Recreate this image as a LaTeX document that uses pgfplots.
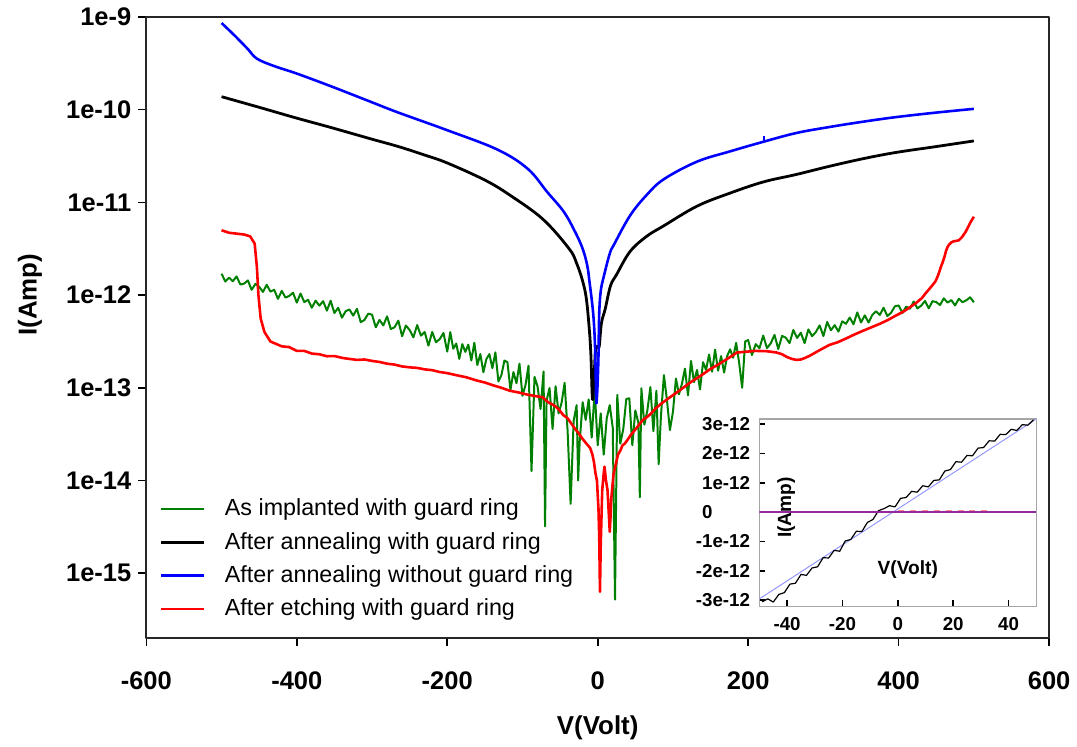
\documentclass[border=0pt]{standalone}
\usepackage{fontspec}
\setmainfont{Liberation Sans}
\usepackage{pgfplots}
\pgfplotsset{compat=1.18}
\definecolor{cgreen}{RGB}{0,128,0}
\definecolor{cblue}{RGB}{0,0,255}
\definecolor{cred}{RGB}{255,0,0}
\definecolor{cpurple}{RGB}{150,40,160}
\definecolor{clblue}{RGB}{150,150,255}
\begin{document}
\begin{tikzpicture}
\path (-73.5pt,-50.5pt) rectangle (465pt,320.5pt);
\begin{axis}[
  name=main, at={(0pt,0pt)}, anchor=south west,
  scale only axis, width=453.5pt, height=312pt,
  xmin=-600, xmax=600, ymode=log, ymin=2.0e-16, ymax=1e-9,
  xtick={-600,-400,-200,0,200,400,600},
  xticklabels={-600,-400,-200,0,200,400,600},
  ytick={1e-15,1e-14,1e-13,1e-12,1e-11,1e-10,1e-9},
  yticklabels={1e-15,1e-14,1e-13,1e-12,1e-11,1e-10,1e-9},
  yminorticks=false,
  tick align=outside, xtick pos=left, ytick pos=left,
  major tick length=4pt,
  tick style={black, line width=0.8pt},
  axis line style={black!85, line width=0.9pt},
  ticklabel style={font=\fontsize{12.8}{14}\selectfont\bfseries},
  xticklabel style={yshift=-9.5pt},
  xlabel={V(Volt)}, ylabel={I(Amp)},
  label style={font=\fontsize{13}{15}\selectfont\bfseries},
  xlabel style={at={(axis description cs:0.5,-0.145)}, anchor=center},
  ylabel style={at={(axis description cs:-0.129,0.553)}, anchor=center},
  legend style={draw=none, fill=none, at={(axis description cs:0.0075,0.236)}, anchor=north west,
    font=\fontsize{11.7}{13}\selectfont, row sep=3.2pt, column sep=9pt,
    nodes={text height=9pt, text depth=2.5pt, inner sep=1pt}},
  legend cell align=left,
  legend image code/.code={\draw[#1] (0pt,0pt) -- (21.5pt,0pt);},
  line join=round,
]
\addplot[cgreen, line width=1.0pt] coordinates {
(-500,1.70e-12) (-495,1.40e-12) (-490,1.54e-12) (-485,1.41e-12) (-480,1.59e-12) (-475,1.30e-12)
(-470,1.33e-12) (-465,1.44e-12) (-460,1.14e-12) (-455,1.32e-12) (-450,1.23e-12) (-445,1.08e-12)
(-440,1.29e-12) (-435,1.09e-12) (-430,1.14e-12) (-425,9.1e-13) (-420,1.11e-12) (-415,9.4e-13)
(-410,9.8e-13) (-405,1.06e-12) (-400,8.3e-13) (-395,1.04e-12) (-390,8.4e-13) (-385,8.9e-13)
(-380,7.3e-13) (-375,8.7e-13) (-370,7.7e-13) (-365,8.6e-13) (-360,6.8e-13) (-355,8.7e-13)
(-350,6.4e-13) (-345,7.3e-13) (-340,5.7e-13) (-335,6.7e-13) (-330,7.0e-13) (-325,6.0e-13)
(-320,7.1e-13) (-315,5.1e-13) (-310,5.4e-13) (-305,6.3e-13) (-300,6.15e-13) (-295,4.5e-13)
(-290,5.4e-13) (-285,4.7e-13) (-280,5.9e-13) (-275,4.3e-13) (-270,4.5e-13) (-265,5.3e-13)
(-260,3.6e-13) (-255,4.7e-13) (-250,4.2e-13) (-245,3.5e-13) (-240,4.75e-13) (-235,3.65e-13)
(-230,4.0e-13) (-225,2.85e-13) (-220,4.0e-13) (-215,3.1e-13) (-210,3.35e-13) (-205,3.9e-13)
(-200,2.46e-13) (-196,3.99e-13) (-192,2.64e-13) (-188,3.0e-13) (-184,2.05e-13) (-180,2.96e-13)
(-176,2.44e-13) (-172,2.92e-13) (-168,1.97e-13) (-164,3.06e-13) (-160,1.76e-13) (-156,2.31e-13)
(-152,1.47e-13) (-148,2.04e-13) (-144,2.31e-13) (-140,1.63e-13) (-136,2.41e-13) (-132,1.17e-13)
(-128,1.37e-13) (-124,1.97e-13) (-120,1.89e-13) (-116,9.5e-14) (-112,1.48e-13) (-108,1.12e-13)
(-104,1.82e-13) (-100,8.2e-14) (-96,1.07e-13) (-92,1.73e-13) (-88,1.26e-14) (-84,1.31e-13)
(-80,1.04e-13) (-76,5.9e-14) (-72,1.5e-13) (-70,3.2e-15) (-68,7.3e-14) (-64,9.95e-14)
(-60,3.6e-14) (-56,1.04e-13) (-52,5.3e-14) (-48,6.9e-14) (-44,1.13e-13) (-40,3.4e-14)
(-36,5.6e-15) (-32,4.4e-14) (-28,6.5e-14) (-26,1.0e-14) (-24,2.6e-14) (-20,7.0e-14)
(-16,4.5e-14) (-12,7.5e-14) (-8,2.9e-14) (-4,9.3e-14) (0,2.4e-14) (4,5.3e-14)
(8,1.9e-14) (12,4.7e-14) (16,6.5e-14) (20,3.7e-14) (23,5.2e-16) (26,8.4e-14)
(30,2.5e-14) (34,3.6e-14) (38,7.6e-14) (42,7.7e-14) (46,2.4e-14) (50,5.7e-14)
(54,4.2e-14) (56,6.6e-15) (58,9.9e-14) (62,4.0e-14) (66,5.7e-14) (70,1.02e-13)
(74,3.4e-14) (78,9.3e-14) (81,1.5e-14) (84,4.9e-14) (88,1.37e-13) (92,7.4e-14)
(96,3.5e-14) (100,5.5e-14) (104,1.26e-13) (108,8.5e-14) (112,1.11e-13) (116,1.61e-13)
(120,8.3e-14) (124,1.95e-13) (128,1.15e-13) (132,1.56e-13) (136,9.6e-14) (140,1.89e-13)
(144,1.56e-13) (148,2.29e-13) (152,1.49e-13) (156,2.58e-13) (160,1.53e-13) (164,2.2e-13)
(168,1.46e-13) (172,2.2e-13) (176,2.6e-13) (180,2.11e-13) (184,3.05e-13) (188,1.86e-13)
(192,1.0e-13) (196,3.16e-13) (200,3.27e-13) (205,2.25e-13) (210,2.96e-13) (215,2.68e-13)
(220,3.66e-13) (225,2.68e-13) (230,3.02e-13) (235,3.72e-13) (240,2.62e-13) (245,3.63e-13)
(250,3.47e-13) (255,3.03e-13) (260,4.2e-13) (265,3.45e-13) (270,3.93e-13) (275,3.03e-13)
(280,4.26e-13) (285,3.6e-13) (290,4.0e-13) (295,4.71e-13) (300,3.62e-13) (305,5.13e-13)
(310,4.18e-13) (315,4.74e-13) (320,4.04e-13) (325,5.21e-13) (330,4.9e-13) (335,5.73e-13)
(340,4.84e-13) (345,6.5e-13) (350,5.07e-13) (355,6.05e-13) (360,5.06e-13) (365,6.12e-13)
(370,6.68e-13) (375,6.11e-13) (380,7.31e-13) (385,5.93e-13) (390,6.46e-13) (395,7.57e-13)
(400,7.73e-13) (405,6.41e-13) (410,7.52e-13) (415,7.13e-13) (420,8.53e-13) (425,7.18e-13)
(430,7.69e-13) (435,8.65e-13) (440,7.19e-13) (445,8.59e-13) (450,8.41e-13) (455,7.8e-13)
(460,9.23e-13) (465,8.3e-13) (470,8.83e-13) (475,7.74e-13) (480,9.12e-13) (485,8.38e-13)
(490,8.79e-13) (495,9.46e-13) (500,8.36e-13)
};
\addlegendentry{As implanted with guard ring}
\addplot[black, line width=1.4pt, smooth, tension=0.6] coordinates {
(-500,1.38e-10) (-450,1.06e-10) (-400,8.1e-11) (-354,6.4e-11) (-300,4.8e-11) (-265,4.0e-11)
(-230,3.24e-11) (-200,2.66e-11) (-150,1.74e-11) (-117,1.2e-11) (-73,6.6e-12) (-38,3.16e-12) (-28,2.2e-12)
(-20,1.41e-12) (-15,9.0e-13) (-11,4.1e-13) (-9,2.2e-13) (-7,7.6e-14) (-5,1.2e-13)
(-3,2.5e-13) (0,2.8e-13) (2,2.8e-13) (5,5.0e-13) (10,7.1e-13) (17,1.26e-12) (25,1.66e-12)
(43,2.95e-12) (65,4.3e-12) (88,5.6e-12) (132,9.1e-12) (176,1.26e-11) (220,1.66e-11)
(264,2.0e-11) (308,2.45e-11) (352,2.95e-11) (396,3.45e-11) (450,4.0e-11) (500,4.6e-11)
};
\addlegendentry{After annealing with guard ring}
\addplot[cblue, line width=1.3pt, smooth, tension=0.6] coordinates {
(-500,8.6e-10) (-490,7.2e-10) (-480,6.0e-10) (-465,4.5e-10) (-453,3.55e-10) (-430,2.95e-10)
(-400,2.45e-10) (-354,1.78e-10) (-300,1.2e-10) (-265,9.3e-11) (-200,6.0e-11) (-133,3.7e-11)
(-93,2.3e-11) (-67,1.29e-11) (-45,7.9e-12) (-30,4.8e-12) (-20,3.16e-12) (-14,2.1e-12)
(-11,1.41e-12) (-6,6.3e-13) (-3.5,2.7e-13) (-2,7.4e-14) (-1,8e-14) (0,1.2e-13) (1,2.2e-13)
(2,6.3e-13) (4,1.1e-12) (8,1.58e-12) (16,2.8e-12) (22,3.55e-12) (43,7.2e-12) (65,1.2e-11)
(88,1.78e-11) (132,2.75e-11) (176,3.55e-11) (220,4.5e-11)
(264,5.6e-11) (308,6.5e-11) (352,7.4e-11) (396,8.3e-11) (450,9.3e-11) (500,1.02e-10)
};
\addlegendentry{After annealing without guard ring}
\addplot[cred, line width=1.3pt] coordinates {
(-500,5.0e-12) (-490,4.7e-12) (-480,4.6e-12) (-470,4.5e-12) (-462,4.3e-12) (-456,3.6e-12)
(-453,2.0e-12) (-451,1.0e-12) (-448,5.6e-13) (-443,4.0e-13) (-435,3.16e-13) (-420,2.8e-13)
(-410,2.75e-13) (-400,2.5e-13) (-390,2.5e-13) (-380,2.34e-13) (-370,2.3e-13) (-360,2.19e-13)
(-350,2.2e-13) (-338,2.09e-13) (-320,2.0e-13) (-310,2.02e-13) (-300,1.95e-13) (-290,1.9e-13)
(-280,1.82e-13) (-270,1.78e-13) (-260,1.70e-13) (-249,1.66e-13) (-240,1.64e-13) (-230,1.58e-13)
(-220,1.55e-13) (-210,1.48e-13) (-200,1.44e-13) (-190,1.38e-13) (-175,1.3e-13) (-161,1.2e-13)
(-150,1.14e-13) (-140,1.07e-13) (-128,1.0e-13) (-117,9.3e-14) (-105,8.9e-14) (-95,8.5e-14)
(-85,8.2e-14) (-73,7.9e-14) (-66,7.0e-14) (-60,6.6e-14) (-55,6.2e-14) (-51,5.75e-14)
(-46,5.1e-14) (-40,4.7e-14) (-35,4.1e-14) (-30,3.6e-14) (-25,3.2e-14) (-20,2.8e-14)
(-15,2.5e-14) (-10,2.24e-14) (-7,1.9e-14) (-5,1.58e-14) (-3,1.2e-14) (-1,1.0e-14)
(0,7e-15) (1,5.0e-15) (2,2.5e-15) (3,6.3e-16) (4,2.0e-15) (5,4.0e-15) (6,7.9e-15)
(8,1.2e-14) (9,1.41e-14) (11,1.0e-14) (13,7.9e-15) (15,4.0e-15) (16,2.8e-15) (17,4.0e-15)
(18,6.3e-15) (20,9.5e-15) (21,1.17e-14) (24,1.5e-14) (27,1.9e-14) (30,2.1e-14) (33,2.4e-14)
(36,2.5e-14) (39,2.7e-14) (44,3.1e-14) (50,3.55e-14) (55,4.0e-14) (60,4.5e-14) (65,4.8e-14)
(69,5.1e-14) (77,6.0e-14) (85,6.8e-14) (95,7.8e-14) (105,8.9e-14) (115,1.02e-13)
(125,1.17e-13) (137,1.35e-13) (149,1.58e-13) (160,1.78e-13) (170,2.0e-13) (178,2.2e-13)
(185,2.4e-13) (197,2.45e-13) (210,2.5e-13) (225,2.48e-13) (238,2.4e-13) (245,2.3e-13)
(252,2.14e-13) (258,2.05e-13) (264,2.0e-13) (270,2.02e-13) (275,2.09e-13) (281,2.2e-13)
(287,2.34e-13) (297,2.6e-13) (308,2.9e-13) (319,3.1e-13) (330,3.4e-13) (341,3.75e-13)
(352,4.1e-13) (364,4.5e-13) (375,4.9e-13) (386,5.4e-13) (396,6.0e-13) (406,6.6e-13)
(415,7.4e-13) (423,8.2e-13) (431,9.3e-13) (436,1.05e-12) (441,1.17e-12) (445,1.28e-12)
(449,1.41e-12) (452,1.6e-12) (454,1.78e-12) (456,2.0e-12) (458,2.2e-12) (461,2.6e-12)
(463,3.0e-12) (465,3.3e-12) (467,3.5e-12) (470,3.7e-12) (473,3.8e-12) (477,3.85e-12)
(480,3.9e-12) (484,4.2e-12) (489,4.8e-12) (495,6.0e-12) (500,7.0e-12)
};
\addlegendentry{After etching with guard ring}
\addplot[cblue, line width=1.0pt, forget plot] coordinates {(221,4.55e-11) (221,5.2e-11)};
\end{axis}
\begin{axis}[
  at={(308pt,16pt)}, anchor=south west,
  scale only axis, width=139pt, height=94pt,
  xmin=-50, xmax=50, ymin=-3.2e-12, ymax=3.17e-12,
  axis background/.style={fill=white},
  axis line style={black!35, line width=0.6pt},
  xtick={-40,-20,0,20,40}, xticklabels={-40,-20,0,20,40},
  ytick={-3e-12,-2e-12,-1e-12,0,1e-12,2e-12,3e-12},
  yticklabels={\llap{-}3e-12,\llap{-}2e-12,\llap{-}1e-12,0,1e-12,2e-12,3e-12},
  scaled y ticks=false,
  tick align=inside, xtick pos=left, ytick pos=left,
  major tick length=3pt,
  tick style={black, line width=0.8pt},
  ticklabel style={font=\fontsize{9.4}{11}\selectfont\bfseries},
  yticklabel style={anchor=west, inner sep=0pt, xshift=-29pt},
  xticklabel style={yshift=-2pt},
  line join=round,
]
\addplot[clblue, line width=0.5pt] coordinates {(-50,-2.95e-12) (50,3.17e-12)};
\addplot[black, line width=0.6pt] coordinates {
(-49,-3.05e-12) (-47,-2.95e-12) (-45,-3.06e-12) (-43,-2.80e-12) (-41,-2.74e-12) (-39,-2.45e-12)
(-37,-2.42e-12) (-35,-2.12e-12) (-33,-2.15e-12) (-31,-1.90e-12) (-29,-1.86e-12) (-27,-1.55e-12)
(-25,-1.56e-12) (-23,-1.30e-12) (-21,-1.33e-12) (-19,-0.98e-12) (-17,-0.93e-12) (-15,-0.65e-12)
(-13,-0.66e-12) (-11,-0.35e-12) (-9,-0.25e-12) (-7,0.05e-12) (-5,0.12e-12) (-3,0.22e-12)
(-1,0.18e-12) (1,0.47e-12) (3,0.50e-12) (5,0.71e-12) (7,0.68e-12) (9,0.90e-12) (11,0.86e-12)
(13,1.08e-12) (15,1.10e-12) (17,1.40e-12) (19,1.45e-12) (21,1.72e-12) (23,1.70e-12)
(25,1.93e-12) (27,1.92e-12) (29,2.18e-12) (31,2.20e-12) (33,2.43e-12) (35,2.42e-12)
(37,2.65e-12) (39,2.64e-12) (41,2.82e-12) (43,2.78e-12) (45,2.98e-12) (47,2.96e-12) (49,3.14e-12)
};
\addplot[cred!45, line width=0.8pt, dashed] coordinates {(0,0.05e-12) (33,0.05e-12)};
\addplot[cpurple, line width=0.8pt] coordinates {(-50,0) (50,0)};
\node[rotate=90, font=\fontsize{9.6}{11}\selectfont\bfseries] at (axis description cs:0.097,0.527) {I(Amp)};
\node[font=\fontsize{9.6}{11}\selectfont\bfseries] at (axis description cs:0.536,0.197) {V(Volt)};
\end{axis}
\end{tikzpicture}
\end{document}
